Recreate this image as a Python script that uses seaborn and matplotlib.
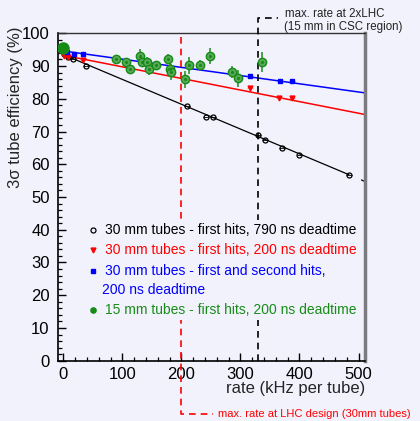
import numpy as np
import matplotlib
matplotlib.use("Agg")
import matplotlib.pyplot as plt
import seaborn as sns
from matplotlib.ticker import MultipleLocator
from matplotlib.patches import Rectangle

# ---------------- data ----------------
# 30 mm tubes - first hits, 790 ns deadtime
black_rate = [2, 8, 16, 38, 209, 242, 253, 329, 341, 370, 400, 484]
black_eff = [93.6, 92.9, 92.0, 90.1, 77.9, 74.5, 74.3, 68.8, 67.5, 64.9, 62.9, 56.8]
black_fit_x = [0, 484]
black_fit_y = [93.5, 56.8]
black_fit_tail_x = [505, 515]
black_fit_tail_y = [55.2, 54.4]

# 30 mm tubes - first hits, 200 ns deadtime
red_rate = [2, 8, 34, 316, 366, 388]
red_eff = [93.0, 92.8, 91.8, 83.4, 80.2, 80.2]
red_fit_x = [0, 511]
red_fit_y = [93.3, 75.2]

# 30 mm tubes - first and second hits, 200 ns deadtime
blue_rate = [7, 18, 34, 316, 367, 388]
blue_eff = [94.3, 93.6, 93.6, 87.1, 85.3, 85.4]
blue_fit_x = [0, 511]
blue_fit_y = [94.6, 81.8]

# 15 mm tubes - first hits, 200 ns deadtime
green_rate = [0, 89, 107, 113, 130, 133, 141, 145, 157, 178, 181, 182, 206, 213, 232, 249, 285, 296, 337]
green_eff = [95.4, 92.0, 91.2, 89.2, 93.1, 91.2, 91.2, 89.2, 90.2, 92.3, 89.2, 88.1, 85.9, 90.2, 90.2, 93.1, 88.2, 86.2, 91.2]
green_err = [0.5, 1.2, 1.2, 1.0, 2.0, 1.5, 1.5, 2.0, 1.2, 1.5, 2.0, 2.5, 2.5, 2.5, 1.5, 2.5, 1.8, 2.5, 3.0]

legend_labels = [
    "30 mm tubes - first hits, 790 ns deadtime",
    "30 mm tubes - first hits, 200 ns deadtime",
    "30 mm tubes - first and second hits,",
    "200 ns deadtime",
    "15 mm tubes - first hits, 200 ns deadtime",
]
lhc_rate = 200
lhc2_rate = 330

# ---------------- style ----------------
sns.set_theme(style="ticks")
plt.rcParams['font.family'] = ['Liberation Sans', 'DejaVu Sans']
bg = '#f2f2fc'
GREEN = '#168c16'

fig = plt.figure(figsize=(4.2, 4.21), dpi=100, facecolor=bg)
ax = fig.add_axes([58/420, 1-360.7/421, (365-58)/420, (360.7-33.3)/421])
ax.set_facecolor(bg)

ax.set_xlim(-9, 511)
ax.set_ylim(0, 100)

# fit lines
sns.lineplot(x=black_fit_x, y=black_fit_y, ax=ax, color='black', lw=0.9)
ax.plot(black_fit_tail_x, black_fit_tail_y, color='black', lw=0.9, clip_on=True)
sns.lineplot(x=red_fit_x, y=red_fit_y, ax=ax, color='red', lw=1.1)
sns.lineplot(x=blue_fit_x, y=blue_fit_y, ax=ax, color='blue', lw=1.1)

# data points
ax.errorbar(black_rate, black_eff, xerr=5, fmt='o', ms=3.6, mfc='none', mec='black',
            mew=0.9, ecolor='black', elinewidth=0.6, zorder=4)
ax.errorbar(red_rate, red_eff, xerr=5, fmt='v', ms=3.5, color='red', mec='red',
            ecolor='#ff8080', elinewidth=0.6, zorder=4)
ax.errorbar(blue_rate, blue_eff, xerr=5, fmt='s', ms=3.5, color='blue', mec='blue',
            ecolor='#8080ff', elinewidth=0.6, zorder=4)
ax.errorbar(green_rate, green_eff, yerr=green_err, fmt='o', ms=6, mfc='#5aa85a', mec=GREEN,
            mew=1.0, ecolor='#3c9c3c', elinewidth=1.3, zorder=5)
sns.scatterplot(x=green_rate, y=green_eff, ax=ax, color=GREEN, s=5, linewidth=0, zorder=6)
ax.plot([0], [95.4], 'o', ms=8, color=GREEN, zorder=6)

# vertical marker lines (extending outside the frame)
ax.plot([lhc_rate, lhc_rate, 254], [99, -16.4, -16.4], color='red', lw=1.2,
        ls=(0, (4, 3)), clip_on=False, zorder=3)
ax.plot([lhc2_rate, lhc2_rate, 364], [0, 104.6, 104.6], color='black', lw=1.2,
        ls=(0, (4, 3)), clip_on=False, zorder=3)
ax.text(262, -16.4, "max. rate at LHC design (30mm tubes)", color='red', fontsize=8,
        va='center', ha='left', clip_on=False)
ax.text(376, 106.0, "max. rate at 2xLHC", color='#222222', fontsize=8.3,
        va='center', ha='left', clip_on=False)
ax.text(373, 101.9, "(15 mm in CSC region)", color='#222222', fontsize=8.3,
        va='center', ha='left', clip_on=False)

# manual legend (opaque box without border)
ax.add_patch(Rectangle((0.088, 0.124), 0.90, 0.306, transform=ax.transAxes,
                       facecolor=bg, edgecolor='none', zorder=7))
mx, tx = 50, 70.7
rows = [39.8, 33.7, 27.5, 21.7, 15.6]
ax.plot([mx], [rows[0]], 'o', ms=3.6, mfc='none', mec='black', mew=0.9, zorder=8)
ax.plot([mx], [rows[1]], 'v', ms=3.5, color='red', zorder=8)
ax.plot([mx], [rows[2]], 's', ms=3.5, color='blue', zorder=8)
ax.plot([mx], [rows[4]], 'o', ms=3.8, color=GREEN, zorder=8)
cols = ['black', 'red', 'blue', 'blue', GREEN]
xs = [tx, tx, tx, 65, tx]
for lab, c, yy, xx in zip(legend_labels, cols, rows, xs):
    ax.text(xx, yy, lab, color=c, fontsize=10, va='center', ha='left', zorder=9)

# axes cosmetics
ax.xaxis.set_major_locator(MultipleLocator(100))
ax.xaxis.set_minor_locator(MultipleLocator(20))
ax.yaxis.set_major_locator(MultipleLocator(10))
ax.yaxis.set_minor_locator(MultipleLocator(2))
ax.tick_params(which='both', direction='in', top=False, right=False, colors='black')
ax.tick_params(which='major', length=5.5, width=1.0, labelsize=12, pad=4.5)
ax.tick_params(which='minor', length=3, width=0.9)
ax.tick_params(axis='y', which='major', pad=6)
for s in ['left', 'bottom']:
    ax.spines[s].set_color('black')
    ax.spines[s].set_linewidth(1.2)
ax.spines['top'].set_color('#333333')
ax.spines['top'].set_linewidth(1.0)
ax.spines['right'].set_color('#7a7a80')
ax.spines['right'].set_linewidth(2.5)

ax.set_xlabel("rate (kHz per tube)", fontsize=12, loc='right')
ax.xaxis.set_label_coords(1.0, -0.062)
ax.xaxis.label.set_va('top')
ax.set_ylabel("3σ tube efficiency (%)", fontsize=12, loc='top')
ax.yaxis.set_label_coords(-0.114, 1.02)

fig.savefig("out.png", dpi=100, facecolor=bg)
